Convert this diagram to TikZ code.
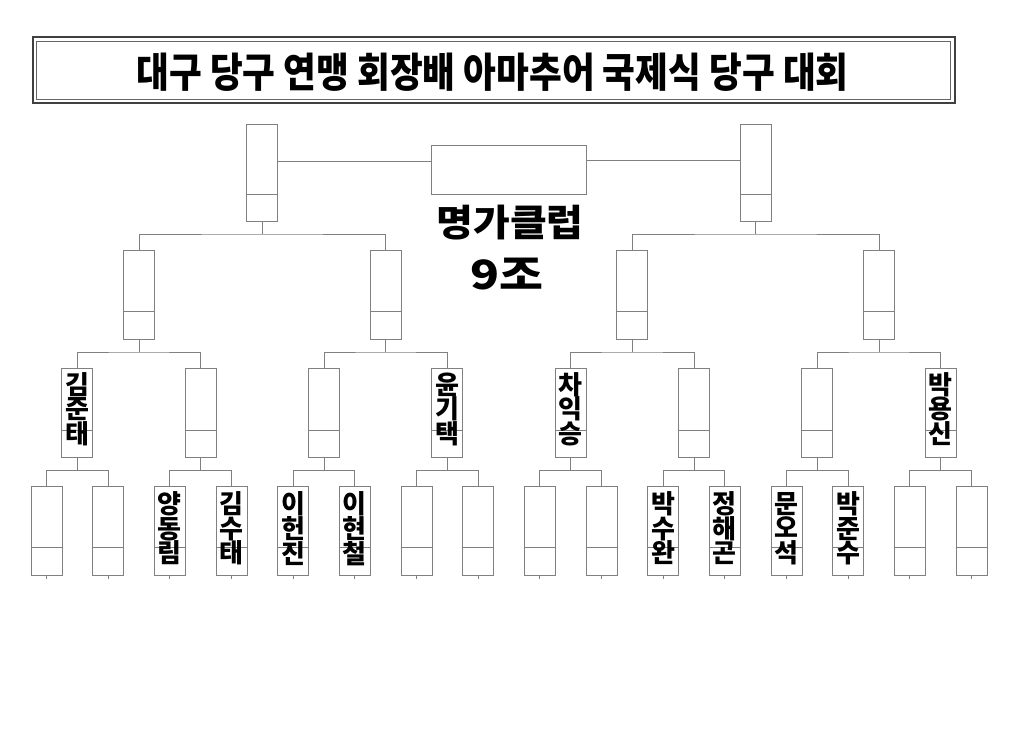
\documentclass[tikz,border=0pt]{standalone}
\usepackage{fontspec}
\newfontfamily\kr{Noto Sans CJK KR}
\usetikzlibrary{calc}
\begin{document}
\begin{tikzpicture}[x=1pt,y=-1pt,
  ln/.style={draw=black!50, line width=0.8pt},
  bx/.style={draw=black!50, line width=0.8pt, minimum width=31pt, inner sep=0pt, outer sep=0pt, rectangle},
  nm/.style={font=\kr\bfseries\fontsize{26}{24.5}\selectfont, align=center, inner sep=0pt, text=black},
  bigtxt/.style={inner sep=0pt, outer sep=0pt, text=black}
]
\fill[white] (0,0) rectangle (1024,746);
\useasboundingbox (0,0) rectangle (1024,746);

% title frame
\node[draw=black!75, line width=2.2pt, minimum width=922.3pt, minimum height=65.4pt, inner sep=0pt] (tframe) at (493.85,70) {};
\node[draw=black!60, line width=0.8pt, minimum width=914.7pt, minimum height=57.3pt, inner sep=0pt] (tinner) at (493.35,70.35) {};
\node[bigtxt] (title) at (492.5,72.5) {\resizebox*{712pt}{38.5pt}{\kr\bfseries 대구 당구 연맹 회장배 아마추어 국제식 당구 대회}};

% leaves
\foreach \i in {1,...,16} {
  \pgfmathsetmacro\xx{46.4+61.67*(\i-1)}
  \node[bx, minimum height=89pt] (a\i) at (\xx,530.5) {};
  \draw[ln] (a\i.west |- 0,547) -- (a\i.east |- 0,547);
  \draw[ln] (a\i.south) -- ++(0,4);
}
% level 2
\foreach \k in {1,...,8} {
  \pgfmathsetmacro\xx{46.4+61.67*(2*\k-1.5)}
  \node[bx, minimum height=89pt] (b\k) at (\xx,412.5) {};
  \draw[ln] (b\k.west |- 0,430) -- (b\k.east |- 0,430);
}
% level 3
\foreach \j in {1,...,4} {
  \pgfmathsetmacro\xx{46.4+61.67*(4*\j-2.5)}
  \node[bx, minimum height=88.8pt] (c\j) at (\xx,294.9) {};
  \draw[ln] (c\j.west |- 0,311.7) -- (c\j.east |- 0,311.7);
}
% level 4
\foreach \h in {1,2} {
  \pgfmathsetmacro\xx{46.4+61.67*(8*\h-4.5)}
  \node[bx, minimum height=97pt] (d\h) at (\xx,173) {};
  \draw[ln] (d\h.west |- 0,194) -- (d\h.east |- 0,194);
}
% final
\node[bx, minimum width=155.3pt, minimum height=49pt] (fin) at (508.9,169.8) {};

% connectors
\foreach \k in {1,...,8} {
  \pgfmathtruncatemacro\l{2*\k-1}
  \pgfmathtruncatemacro\r{2*\k}
  \draw[ln] (a\l.north) |- (b\k.south |- 0,470.5) -| (a\r.north);
  \draw[ln] (b\k.south) -- (b\k.south |- 0,470.5);
}
\foreach \j in {1,...,4} {
  \pgfmathtruncatemacro\l{2*\j-1}
  \pgfmathtruncatemacro\r{2*\j}
  \draw[ln] (b\l.north) |- (c\j.south |- 0,352) -| (b\r.north);
  \draw[ln] (c\j.south) -- (c\j.south |- 0,352);
}
\foreach \h in {1,2} {
  \pgfmathtruncatemacro\l{2*\h-1}
  \pgfmathtruncatemacro\r{2*\h}
  \draw[ln] (c\l.north) |- (d\h.south |- 0,234) -| (c\r.north);
  \draw[ln] (d\h.south) -- (d\h.south |- 0,234);
}
\draw[ln] (d1.east |- 0,161) -- (fin.west |- 0,161);
\draw[ln] (fin.east |- 0,160.5) -- (d2.west |- 0,160.5);

% center texts
\node[bigtxt] (club) at (510,222.5) {\resizebox*{147pt}{35pt}{\kr\bfseries 명가클럽}};
\node[bigtxt] (grp) at (506.7,274.2) {\resizebox*{73pt}{32pt}{\kr\bfseries 9조}};

% names level 2
\node[nm] (nb1) at ($(b1.center)+(0,-3.5)$) {김\\준\\태};
\node[nm] (nb4) at ($(b4.center)+(0,-3.5)$) {윤\\기\\택};
\node[nm] (nb5) at ($(b5.center)+(0,-3.5)$) {차\\익\\승};
\node[nm] (nb8) at ($(b8.center)+(0,-3.5)$) {박\\용\\신};
% names leaves
\node[nm] (na3) at ($(a3.center)+(0,-2)$) {양\\동\\림};
\node[nm] (na4) at ($(a4.center)+(0,-2)$) {김\\수\\태};
\node[nm] (na5) at ($(a5.center)+(0,-2)$) {이\\헌\\진};
\node[nm] (na6) at ($(a6.center)+(0,-2)$) {이\\현\\철};
\node[nm] (na11) at ($(a11.center)+(0,-2)$) {박\\수\\완};
\node[nm] (na12) at ($(a12.center)+(0,-2)$) {정\\해\\곤};
\node[nm] (na13) at ($(a13.center)+(0,-2)$) {문\\오\\석};
\node[nm] (na14) at ($(a14.center)+(0,-2)$) {박\\준\\수};
\end{tikzpicture}
\end{document}
